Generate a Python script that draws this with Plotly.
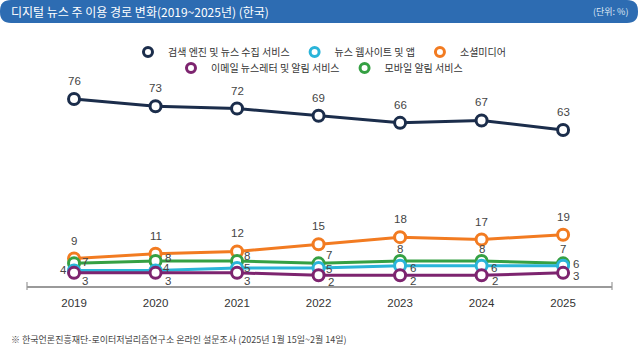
import plotly.graph_objects as go

years = [2019, 2020, 2021, 2022, 2023, 2024, 2025]
search = [76, 73, 72, 69, 66, 67, 63]
website = [4, 4, 5, 5, 6, 6, 6]
social = [9, 11, 12, 15, 18, 17, 19]
email = [3, 3, 3, 2, 2, 2, 3]
mobile = [7, 8, 8, 7, 8, 8, 7]

names = {
    "search": "검색 엔진 및 뉴스 수집 서비스",
    "website": "뉴스 웹사이트 및 앱",
    "social": "소셜미디어",
    "email": "이메일 뉴스레터 및 알림 서비스",
    "mobile": "모바일 알림 서비스",
}
colors = {
    "search": "#1b2d4b",
    "website": "#2ab4d9",
    "social": "#f27b21",
    "email": "#7d246f",
    "mobile": "#35a043",
}
title_text = "디지털 뉴스 주 이용 경로 변화(2019~2025년) (한국)"
unit_text = "(단위: %)"
source_text = "※ 한국언론진흥재단-로이터저널리즘연구소 온라인 설문조사 (2025년 1월 15일~2월 14일)"

# value-label pixel offsets (dx right, dy down) per point
label_offsets = {
    "search": [(0, -18)] * 7,
    "social": [(0, -18)] * 7,
    "mobile": [(11, -1), (12, -3), (10, -5), (10, -8), (0, -12), (0, -12), (0, -14)],
    "website": [(-11, 0), (11, -2), (10, 0), (10, 1), (13, 2), (12, 2), (13, -2)],
    "email": [(11, 8), (12, 8), (10, 8), (12, 7), (13, 6), (13, 6), (13, 3)],
}

FONT = "Noto Sans CJK KR"
NUMFONT = "Liberation Sans"
W, H = 640, 356
L, R, T, B = 27, 28, 90, 70
PW, PH = W - L - R, H - T - B


def px2paper_x(px):
    return (px - L) / PW


def px2paper_y(py):
    return (H - B - py) / PH


series = [
    ("search", search),
    ("social", social),
    ("mobile", mobile),
    ("website", website),
    ("email", email),
]

fig = go.Figure()
annotations = []
for key, vals in series:
    fig.add_trace(go.Scatter(
        x=years, y=vals, mode="lines+markers",
        line=dict(color=colors[key], width=3),
        marker=dict(symbol="circle", size=11, color="white",
                    line=dict(color=colors[key], width=3)),
        showlegend=False, hoverinfo="skip", cliponaxis=False,
    ))
    for xv, yv, (dx, dy) in zip(years, vals, label_offsets[key]):
        annotations.append(dict(
            x=xv, y=yv, xref="x", yref="y", text=str(yv), showarrow=False,
            xanchor="center", yanchor="middle", xshift=dx, yshift=-dy,
            font=dict(family=NUMFONT, size=11.5, color="#444444"),
        ))

legend_rows = [("legend", ["search", "website", "social"]), ("legend2", ["email", "mobile"])]
for lg, keys in legend_rows:
    for key in keys:
        fig.add_trace(go.Scatter(
            x=[None], y=[None], mode="markers", name=names[key],
            marker=dict(symbol="circle", size=9, color="white",
                        line=dict(color=colors[key], width=3)),
            legend=lg, showlegend=True,
        ))

# title bar
x0, x1 = px2paper_x(0), px2paper_x(638)
y0, y1 = px2paper_y(23), px2paper_y(0)
rx = 11 / PW
ry = 11 / PH
path = (f"M {x0+rx},{y1} L {x1-rx},{y1} Q {x1},{y1} {x1},{y1-ry} L {x1},{y0+ry} "
        f"Q {x1},{y0} {x1-rx},{y0} L {x0+rx},{y0} Q {x0},{y0} {x0},{y0+ry} "
        f"L {x0},{y1-ry} Q {x0},{y1} {x0+rx},{y1} Z")
shapes = [
    dict(type="path", path=path, xref="paper", yref="paper",
         fillcolor="#2d6cb2", line=dict(width=0), layer="below"),
]
for px in (27, 612):
    shapes.append(dict(type="line", xref="paper", yref="paper",
                       x0=px2paper_x(px), x1=px2paper_x(px),
                       y0=px2paper_y(282), y1=px2paper_y(290),
                       line=dict(color="#9a9a9a", width=1.2)))

annotations += [
    dict(text=title_text, xref="paper", yref="paper", x=px2paper_x(9), y=px2paper_y(12),
         xanchor="left", yanchor="middle", showarrow=False,
         font=dict(family=FONT, size=12, color="white")),
    dict(text=unit_text, xref="paper", yref="paper", x=px2paper_x(630), y=px2paper_y(12),
         xanchor="right", yanchor="middle", showarrow=False,
         font=dict(family=FONT, size=9, color="#dfe8f4")),
    dict(text=source_text, xref="paper", yref="paper", x=px2paper_x(9), y=px2paper_y(339),
         xanchor="left", yanchor="middle", showarrow=False,
         font=dict(family=FONT, size=9, color="#444444")),
]

fig.update_layout(
    width=W, height=H,
    margin=dict(l=L, r=R, t=T, b=B, autoexpand=False),
    paper_bgcolor="white", plot_bgcolor="white",
    font=dict(family=FONT, color="#333333"),
    shapes=shapes, annotations=annotations,
    legend=dict(orientation="h", x=0.5, xanchor="center", y=px2paper_y(52), yanchor="middle",
                font=dict(family=FONT, size=10, color="#333333"), itemwidth=30,
                bgcolor="rgba(0,0,0,0)"),
    legend2=dict(orientation="h", x=0.5, xanchor="center", y=px2paper_y(68), yanchor="middle",
                 font=dict(family=FONT, size=10, color="#333333"), itemwidth=30,
                 bgcolor="rgba(0,0,0,0)"),
    xaxis=dict(range=[2018.423, 2025.60], tickvals=years, ticktext=[str(y) for y in years],
               showgrid=False, zeroline=False, showline=True, linecolor="#9a9a9a", linewidth=1.5,
               ticks="", tickfont=dict(family=NUMFONT, size=11.5, color="#333333"),
               ticklabelstandoff=5, fixedrange=True),
    yaxis=dict(range=[-2.52, 79.8], visible=False, fixedrange=True),
)

fig.write_html("out.html", config={"displayModeBar": False},
               post_script="document.body.style.margin='0';document.body.style.padding='0';")
